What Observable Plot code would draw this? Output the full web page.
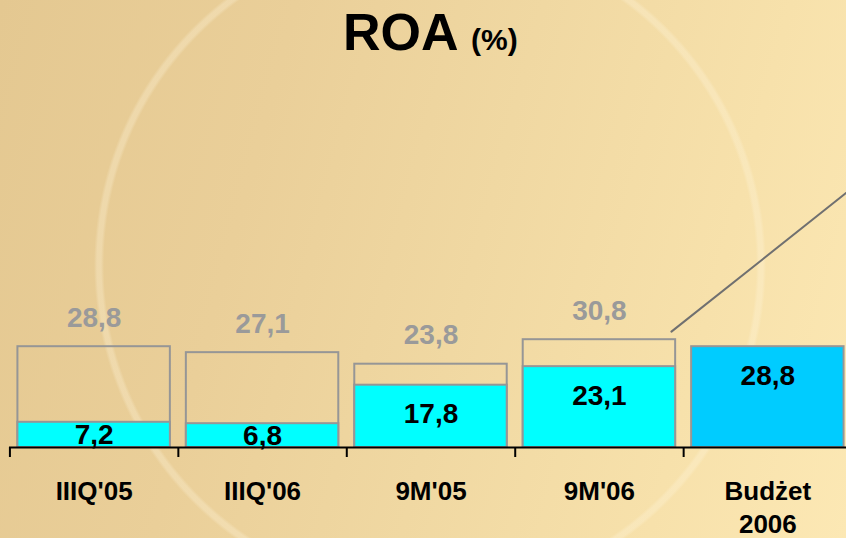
<!DOCTYPE html>
<html><head><meta charset="utf-8">
<script src="https://cdn.jsdelivr.net/npm/d3@7"></script>
<script src="https://cdn.jsdelivr.net/npm/@observablehq/plot@0.6"></script>
<style>
html,body{margin:0;padding:0;}
body{width:846px;height:538px;overflow:hidden;position:relative;
  background:
    radial-gradient(circle at 430px 265px, transparent 326px, rgba(255,246,222,0.30) 329px, rgba(255,246,222,0.30) 333px, transparent 336px),
    linear-gradient(105deg,#e4c891 0%,#eacf99 30%,#f0d8a2 55%,#f7e1ab 80%,#fce8b4 100%);
  font-family:"Liberation Sans",Arial,sans-serif;}
#title{position:absolute;left:343px;top:6px;white-space:nowrap;font-weight:bold;line-height:1;color:#000;}
#title .main{font-size:52px;}
#title .unit{font-size:30px;}
#chart{position:absolute;left:0;top:0;width:852px;}
#chart svg{max-width:none !important;}
</style></head><body>
<div id="title"><span class="main">ROA </span><span class="unit">(%)</span></div>
<div id="chart"></div>
<script>
const categories = ["IIIQ'05", "IIIQ'06", "9M'05", "9M'06", "Budżet 2006"];
const axisLabels = ["IIIQ'05", "IIIQ'06", "9M'05", "9M'06", "Budżet\n2006"];
const upperCats = ["IIIQ'05", "IIIQ'06", "9M'05", "9M'06"];
const upperValues = [28.8, 27.1, 23.8, 30.8];
const actualValues = [7.2, 6.8, 17.8, 23.1];
const budgetCats = ["Budżet 2006"];
const budgetValues = [28.8];

const fmt = v => v.toFixed(1).replace(".", ",");
const innerY = v => Math.max(v / 2, v - 8.3);

const padIn = 0.095, padOut = 0.05;
const x0 = 9, x1 = 852;
const step = (x1 - x0) / (categories.length - padIn + 2 * padOut);

const font = "Liberation Sans, Arial, sans-serif";

const chart = Plot.plot({
  width: 852, height: 538,
  marginLeft: 9, marginRight: 0, marginTop: 0, marginBottom: 0,
  style: {background: "transparent", fontFamily: font, overflow: "visible", maxWidth: "none"},
  x: {domain: categories, range: [x0, x1], paddingInner: padIn, paddingOuter: padOut, round: false, axis: null},
  y: {domain: [0, 100], range: [447, 97], axis: null},
  marks: [
    Plot.barY(upperValues, {x: (d, i) => upperCats[i], y: d => d, fill: "none", stroke: "#969696", strokeWidth: 2}),
    Plot.barY(actualValues, {x: (d, i) => upperCats[i], y: d => d, fill: "#00ffff", stroke: "#969696", strokeWidth: 2}),
    Plot.barY(budgetValues, {x: (d, i) => budgetCats[i], y: d => d, fill: "#00ccff", stroke: "#969696", strokeWidth: 2}),
    Plot.arrow([0], {x1: () => "9M'06", y1: () => 33.1, x2: () => "Budżet 2006", y2: () => 71.3,
      dx: 72, stroke: "#707070", strokeWidth: 2, headLength: 0, insetEnd: -40}),
    Plot.ruleY([0], {stroke: "#000", strokeWidth: 2}),
    Plot.ruleX(categories, {x: d => d, y1: 0, y2: -2.86, dx: -step / 2, stroke: "#000", strokeWidth: 2}),
    Plot.text(upperValues, {x: (d, i) => upperCats[i], y: d => d, text: fmt, dy: -29,
      fill: "#9a9a9a", fontSize: 28, fontWeight: "bold"}),
    Plot.text(actualValues, {x: (d, i) => upperCats[i], y: innerY, text: fmt,
      fill: "#000", fontSize: 28, fontWeight: "bold"}),
    Plot.text(budgetValues, {x: (d, i) => budgetCats[i], y: innerY, text: fmt,
      fill: "#000", fontSize: 28, fontWeight: "bold"}),
    Plot.text(axisLabels, {x: (d, i) => categories[i], y: () => 0, text: d => d, dy: 29.5,
      lineAnchor: "top", lineHeight: 1.25, fill: "#000", fontSize: 26, fontWeight: "bold"})
  ]
});
document.getElementById("chart").appendChild(chart);
</script>
</body></html>
